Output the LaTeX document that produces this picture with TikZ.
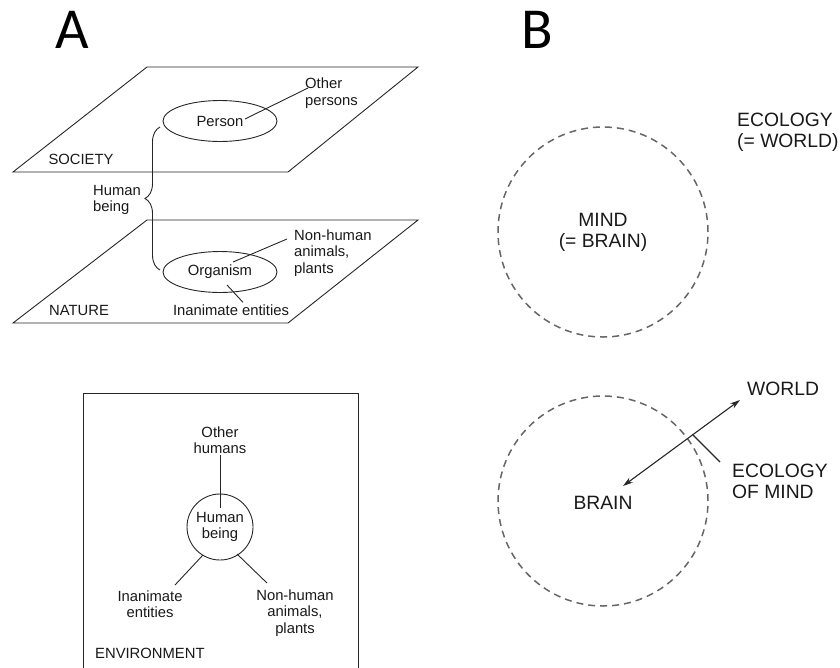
\documentclass[tikz,border=0pt]{standalone}
\usepackage{fontspec}
\setmainfont{Liberation Sans}
\newfontfamily\bigfont{Carlito}
\usetikzlibrary{decorations.pathreplacing,arrows.meta,shapes.geometric}
\tikzset{
  ln/.style={draw=black!85, line width=0.9pt},
  smalltxt/.style={font=\fontsize{14.8}{16.5}\selectfont, text=black!90, inner sep=1pt},
  bigtxt/.style={font=\fontsize{19.3}{21}\selectfont, text=black!90, inner sep=1pt},
  panel/.style={font=\bigfont\fontsize{58}{60}\selectfont, inner sep=0pt},
  dcirc/.style={circle, draw=black!60, line width=1.5pt, dash pattern=on 7pt off 5pt, minimum size=210pt, inner sep=0pt},
}
\begin{document}
\begin{tikzpicture}[x=1pt,y=-1pt]
\useasboundingbox (0,0) rectangle (840,667);
% panel letters
\node[panel] (lA) at (72,30) {A};
\node[panel] (lB) at (537,30) {B};

% ---------- A top ----------
\draw[ln] (13,172) -- (288,172) -- (418,67) -- (147,67) -- cycle;
\draw[ln] (13,323) -- (288,323) -- (418,220) -- (147,220) -- cycle;
\node[smalltxt] (soc) at (81,159) {SOCIETY};
\node[smalltxt] (nat) at (79,310) {NATURE};

\node[ellipse, ln, minimum width=114pt, minimum height=41pt, inner sep=0pt, smalltxt] (pe) at (220,121) {Person};
\node[smalltxt, align=left, anchor=west] (op) at (304,93) {Other\\persons};
\draw[ln] ([shift={(25,-2)}]pe.center) -- ([shift={(4,-5)}]op.west);

\node[ellipse, ln, minimum width=114pt, minimum height=41pt, inner sep=0pt, smalltxt] (org) at (220,272) {Organism};
\node[smalltxt, align=left, anchor=west] (na) at (293,253) {Non-human\\animals,\\plants};
\node[smalltxt] (ie) at (231,310) {Inanimate entities};
\draw[ln] ([shift={(13,-10)}]org.center) -- ([shift={(-6,-14)}]na.west);
\draw[ln] ([shift={(7,13)}]org.center) -- ([shift={(12,-1)}]ie.north);

\draw[ln, decorate, decoration={brace, amplitude=15pt}] (160,270) -- (160,127);
\node[smalltxt, align=left, anchor=west] (hb1) at (92,200) {Human\\being};

% ---------- A bottom ----------
\draw[ln] (83,668) -- (83,393) -- (358,393) -- (358,668);
\node[circle, ln, minimum size=66pt, inner sep=0pt, smalltxt, align=center] (hb) at (220,527) {Human\\being};
\node[smalltxt, align=center] (oh) at (220,440) {Other\\humans};
\node[smalltxt, align=center] (ie2) at (150,604) {Inanimate\\entities};
\node[smalltxt, align=center] (nh2) at (295,613) {Non-human\\animals,\\plants};
\node[smalltxt, anchor=west] (env) at (94,653) {ENVIRONMENT};
\draw[ln] (oh.south) -- ([shift={(0,-19)}]hb.center);
\draw[ln] ([shift={(-17,28)}]hb.center) -- ([shift={(25,-19)}]ie2.center);
\draw[ln] ([shift={(17,27)}]hb.center) -- ([shift={(-28,-30)}]nh2.center);

% ---------- B top ----------
\node[dcirc] (c1) at (603,232) {};
\node[bigtxt, align=center] (mind) at (603,232) {MIND\\(= BRAIN)};
\node[bigtxt, align=left, anchor=west] (eco) at (736,132) {ECOLOGY\\(= WORLD)};

% ---------- B bottom ----------
\node[dcirc] (c2) at (603,501) {};
\node[bigtxt] (brain) at (603,503) {BRAIN};
\node[bigtxt, anchor=west] (world) at (746,389) {WORLD};
\node[bigtxt, align=left, anchor=west] (eom) at (731,481) {ECOLOGY\\OF MIND};
\draw[ln, line width=1.1pt, {Stealth[length=10pt,width=6pt]}-{Stealth[length=10pt,width=6pt]}] ([shift={(20,-17)}]brain.center) -- ([shift={(-6,11)}]world.west);
\draw[ln, line width=1.1pt] ([shift={(-38,-46)}]eom.west) -- ([shift={(-11,-19)}]eom.west);
\end{tikzpicture}
\end{document}
